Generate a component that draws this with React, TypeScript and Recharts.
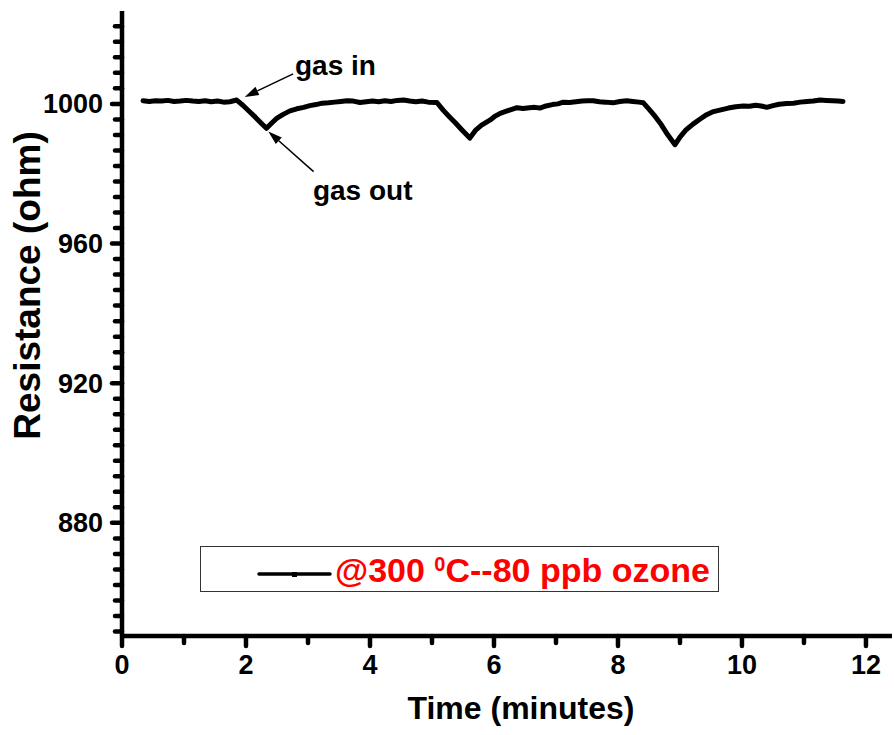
import React from 'react';
import { LineChart, Line, XAxis, YAxis, ReferenceLine, ReferenceDot } from 'recharts';

// ---- data ----
const timeMinutes = [
  0.34, 0.44, 0.54, 0.64, 0.74, 0.84, 0.94, 1.04, 1.14, 1.24, 1.34, 1.44, 1.54, 1.64, 1.74, 1.85,
  1.95, 2.05, 2.15, 2.25, 2.33,
  2.42, 2.5, 2.6, 2.71, 2.82, 2.93, 3.03, 3.13, 3.23, 3.33, 3.43, 3.53, 3.63, 3.73, 3.84, 3.94,
  4.04, 4.14, 4.24, 4.34, 4.44, 4.54, 4.64, 4.74, 4.84, 4.94, 5.08,
  5.18, 5.28, 5.38, 5.48, 5.61,
  5.7, 5.8, 5.94, 6.02, 6.1, 6.2, 6.3, 6.37, 6.47, 6.57, 6.66, 6.74, 6.84, 6.94, 7.03, 7.12,
  7.22, 7.32, 7.42, 7.51, 7.6, 7.7, 7.8, 7.92, 8.03, 8.14, 8.24, 8.34, 8.41,
  8.5, 8.6, 8.7, 8.8, 8.92,
  9.0, 9.1, 9.21, 9.32, 9.43, 9.54, 9.66, 9.78, 9.9, 10.02, 10.12, 10.22, 10.31, 10.4, 10.5,
  10.6, 10.72, 10.83, 10.94, 11.05, 11.15, 11.26, 11.36, 11.46, 11.55, 11.63,
];
const resistanceOhm = [
  1000.9, 1000.7, 1000.9, 1000.8, 1001.0, 1000.7, 1000.8, 1001.0, 1000.8, 1000.7, 1000.9, 1000.6, 1000.8, 1000.5, 1000.6, 1001.1,
  999.6, 997.9, 996.2, 994.4, 993.0,
  994.6, 995.9, 997.0, 998.0, 998.6, 999.0, 999.5, 999.8, 1000.2, 1000.3, 1000.5, 1000.7, 1000.9, 1000.8, 1000.4, 1000.6,
  1000.8, 1000.6, 1000.9, 1000.7, 1001.0, 1001.1, 1000.8, 1000.6, 1000.8, 1000.5, 1000.4,
  998.2, 996.3, 994.5, 992.6, 990.2,
  992.4, 993.9, 995.4, 996.5, 997.3, 997.9, 998.5, 998.9, 998.7, 998.9, 999.0, 998.8, 999.4, 999.8, 1000.0, 1000.5,
  1000.4, 1000.6, 1000.8, 1000.9, 1000.9, 1000.6, 1000.5, 1000.3, 1000.7, 1000.9, 1000.7, 1000.5, 1000.3,
  998.5, 996.4, 994.0, 991.2, 988.3,
  990.5, 992.6, 994.2, 995.6, 996.9, 997.8, 998.3, 998.8, 999.2, 999.4, 999.3, 999.6, 999.4, 999.0, 999.5,
  999.9, 1000.1, 1000.2, 1000.5, 1000.7, 1000.8, 1001.1, 1001.0, 1000.9, 1000.8, 1000.7,
];

const xMajorTicks = [0, 2, 4, 6, 8, 10, 12];
const xMinorTicks = [1, 3, 5, 7, 9, 11];
const yMajorTicks = [880, 920, 960, 1000];
const yMinorPerMajor = 8;
const xDomain: [number, number] = [0, 12.42];
const yDomain: [number, number] = [847.6, 1026.6];

const xTitle = 'Time (minutes)';
const yTitle = 'Resistance (ohm)';
const legendPrefix = '@300 ';
const legendSup = '0';
const legendSuffix = 'C--80 ppb ozone';

const textNotes = [
  { label: 'gas in', t: 2.79, r: 1008.3 },
  { label: 'gas out', t: 3.08, r: 972.5 },
];
const arrowNotes = [
  { fromT: 2.76, fromR: 1008.6, toT: 1.98, toR: 1002.0 },
  { fromT: 3.09, fromR: 980.6, toT: 2.36, toR: 992.1 },
];

// ---- derived ----
const data = timeMinutes.map((t, i) => ({ t, r: resistanceOhm[i] }));
const xTicks = [...xMajorTicks, ...xMinorTicks].sort((a, b) => a - b);
const yStep = (yMajorTicks[1] - yMajorTicks[0]) / (yMinorPerMajor + 1);
const yTicks: number[] = [];
for (let k = -yMinorPerMajor; k <= (yMajorTicks.length - 1) * (yMinorPerMajor + 1) + yMinorPerMajor; k++) {
  const v = +(yMajorTicks[0] + k * yStep).toFixed(4);
  if (v >= yDomain[0] && v <= yDomain[1]) yTicks.push(v);
}

const FONT = '"Liberation Sans", Arial, sans-serif';

const XTick = (props: any) => {
  const { x, y, payload } = props;
  const v = payload.value;
  const major = xMajorTicks.some((m) => Math.abs(m - v) < 1e-6);
  return (
    <g>
      <line x1={x} x2={x} y1={y} y2={y + (major ? 10 : 7)} stroke="#000" strokeWidth={4.5} strokeLinecap="round" />
      {major && (
        <text x={x} y={y + 38} textAnchor="middle" fontSize={27} fontWeight="bold" fontFamily={FONT} fill="#000">
          {v}
        </text>
      )}
    </g>
  );
};

const YTick = (props: any) => {
  const { x, y, payload } = props;
  const v = payload.value;
  const major = yMajorTicks.some((m) => Math.abs(m - v) < 1e-6);
  return (
    <g>
      <line x1={x} x2={x - (major ? 10 : 7)} y1={y} y2={y} stroke="#000" strokeWidth={4.5} strokeLinecap="round" />
      {major && (
        <text x={x - 19} y={y + 9.5} textAnchor="end" fontSize={27} fontWeight="bold" fontFamily={FONT} fill="#000">
          {v}
        </text>
      )}
    </g>
  );
};

const arrowShape = (p: any) => {
  const { x1, y1, x2, y2 } = p;
  const dx = x2 - x1;
  const dy = y2 - y1;
  const len = Math.sqrt(dx * dx + dy * dy) || 1;
  const ux = dx / len;
  const uy = dy / len;
  const hl = 14;
  const hw = 4.5;
  const bx = x2 - ux * hl;
  const by = y2 - uy * hl;
  const pts = `${x2},${y2} ${bx - uy * hw},${by + ux * hw} ${bx + uy * hw},${by - ux * hw}`;
  return (
    <g>
      <line x1={x1} y1={y1} x2={bx} y2={by} stroke="#000" strokeWidth={1.5} />
      <polygon points={pts} fill="#000" />
    </g>
  );
};

export default function App() {
  return (
    <div style={{ position: 'absolute', left: 0, top: 0, width: 894, height: 735, background: '#fff' }}>
      <LineChart width={894} height={735} data={data} margin={{ top: 11, right: 2, bottom: 0, left: 0 }}>
        <XAxis
          xAxisId="main"
          type="number"
          dataKey="t"
          domain={xDomain}
          ticks={xTicks}
          interval={0}
          allowDataOverflow
          height={99}
          tickSize={0}
          tickMargin={0}
          tickLine={false}
          axisLine={{ stroke: '#000', strokeWidth: 4.5 }}
          tick={<XTick />}
          label={{
            content: (lp: any) => {
              const vb = lp.viewBox || {};
              return (
                <text
                  x={vb.x + vb.width / 2 + 14}
                  y={vb.y + 83}
                  textAnchor="middle"
                  fontSize={32}
                  fontWeight="bold"
                  fontFamily={FONT}
                  fill="#000"
                >
                  {xTitle}
                </text>
              );
            },
          }}
        />
        <XAxis
          xAxisId="top"
          orientation="top"
          type="number"
          domain={xDomain}
          allowDataOverflow
          height={0}
          tick={false}
          tickLine={false}
          axisLine={{ stroke: '#000', strokeWidth: 4 }}
        />
        <YAxis
          yAxisId="main"
          type="number"
          dataKey="r"
          domain={yDomain}
          ticks={yTicks}
          interval={0}
          allowDataOverflow
          width={122}
          tickSize={0}
          tickMargin={0}
          tickLine={false}
          axisLine={{ stroke: '#000', strokeWidth: 4.5 }}
          tick={<YTick />}
          label={{
            content: (lp: any) => {
              const vb = lp.viewBox || {};
              const cx = 40;
              const cy = vb.y + vb.height / 2 - 38;
              return (
                <text
                  x={cx}
                  y={cy}
                  transform={`rotate(-90 ${cx} ${cy})`}
                  textAnchor="middle"
                  fontSize={37}
                  fontWeight="bold"
                  fontFamily={FONT}
                  fill="#000"
                >
                  {yTitle}
                </text>
              );
            },
          }}
        />
        <YAxis
          yAxisId="right"
          orientation="right"
          type="number"
          domain={yDomain}
          allowDataOverflow
          width={0}
          tick={false}
          tickLine={false}
          axisLine={{ stroke: '#000', strokeWidth: 2 }}
        />
        <Line
          xAxisId="main"
          yAxisId="main"
          type="linear"
          dataKey="r"
          stroke="#000"
          strokeWidth={5}
          strokeLinejoin="round"
          strokeLinecap="round"
          dot={false}
          activeDot={false}
          isAnimationActive={false}
        />
        {arrowNotes.map((a, i) => (
          <ReferenceLine
            key={'arrow' + i}
            xAxisId="main"
            yAxisId="main"
            segment={[
              { x: a.fromT, y: a.fromR },
              { x: a.toT, y: a.toR },
            ]}
            shape={arrowShape}
            ifOverflow="visible"
          />
        ))}
        {textNotes.map((n, i) => (
          <ReferenceDot
            key={'note' + i}
            xAxisId="main"
            yAxisId="main"
            x={n.t}
            y={n.r}
            ifOverflow="visible"
            shape={(p: any) => (
              <text x={p.cx} y={p.cy} fontSize={28} fontWeight="bold" fontFamily={FONT} fill="#000">
                {n.label}
              </text>
            )}
          />
        ))}
      </LineChart>
      <div
        style={{
          position: 'absolute',
          left: 200,
          top: 546,
          width: 519,
          height: 46,
          border: '1px solid #333',
          boxSizing: 'border-box',
        }}
      >
        <svg width={80} height={46} style={{ position: 'absolute', left: 55, top: 0 }}>
          <line x1={3} x2={74} y1={27} y2={27} stroke="#000" strokeWidth={3.5} strokeLinecap="round" />
          <rect x={36} y={25} width={5} height={5} fill="#000" />
        </svg>
        <span
          style={{
            position: 'absolute',
            left: 134,
            top: 3,
            whiteSpace: 'nowrap',
            fontFamily: FONT,
            fontWeight: 'bold',
            fontSize: 34,
            lineHeight: '40px',
            color: '#ff0000',
          }}
        >
          {legendPrefix}
          <span style={{ fontSize: 20, position: 'relative', top: -11 }}>{legendSup}</span>
          {legendSuffix}
        </span>
      </div>
    </div>
  );
}
